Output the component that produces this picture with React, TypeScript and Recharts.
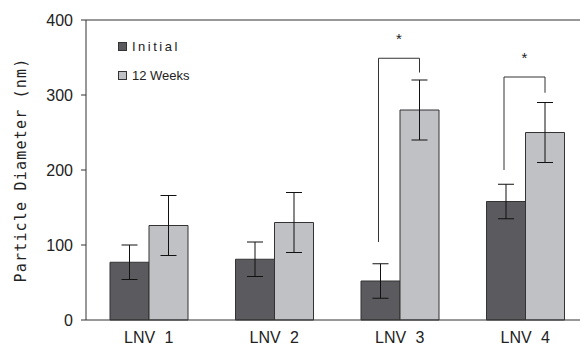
import React from 'react';
import {
  BarChart,
  Bar,
  XAxis,
  YAxis,
  ErrorBar,
  Legend,
  ReferenceLine,
  Rectangle
} from 'recharts';

// Values
const categories = ['LNV 1', 'LNV 2', 'LNV 3', 'LNV 4'];
const initial = [77, 81, 52, 158];
const initialErr = [23, 23, 23, 23];
const weeks12 = [126, 130, 280, 250];
const weeks12Err = [40, 40, 40, 40];
const yTicks = [0, 100, 200, 300, 400];

// Significance brackets (data units), null where there is none
const bracketLeft: (number | null)[] = [null, null, 104, 200];
const bracketTop: (number | null)[] = [null, null, 349, 324];
const bracketRight: (number | null)[] = [null, null, 330, 303];
const starY: (number | null)[] = [null, null, 376, 350];

const COLORS = {
  initial: '#5b5b5f',
  weeks: '#c0c1c5',
  outline: '#333333',
  text: '#222222'
};

const data = categories.map((name, i) => ({
  name,
  initial: initial[i],
  initialErr: initialErr[i],
  weeks: weeks12[i],
  weeksErr: weeks12Err[i],
  bLeft: bracketLeft[i],
  bTop: bracketTop[i],
  bRight: bracketRight[i],
  star: starY[i]
}));

// 12-week bar plus its significance bracket, placed using the bar's own scale
const WeeksShape = (props: any) => {
  const { x, y, width, height, payload } = props;
  const base = y + height;
  const k = height / payload.weeks;
  const toY = (v: number) => base - v * k;
  const leftX = x - width / 2 - 2;
  const rightX = x + width / 2;
  return (
    <g>
      <Rectangle {...props} />
      {payload.bTop !== null && (
        <g>
          <path
            d={`M${leftX},${toY(payload.bLeft)} V${toY(payload.bTop)} H${rightX} V${toY(payload.bRight)}`}
            fill="none"
            stroke={COLORS.outline}
            strokeWidth={1}
          />
          <text
            x={(leftX + rightX) / 2}
            y={toY(payload.star)}
            textAnchor="middle"
            dominantBaseline="central"
            fontSize={15}
            fontFamily="Liberation Sans, Arial, sans-serif"
            fill={COLORS.text}
          >
            *
          </text>
        </g>
      )}
    </g>
  );
};

const LegendContent = () => (
  <div style={{ fontFamily: 'Liberation Sans, Arial, sans-serif', fontSize: 13, color: COLORS.text }}>
    <div style={{ display: 'flex', alignItems: 'center', height: 16, marginBottom: 13 }}>
      <span style={{ width: 7, height: 7, background: COLORS.initial, border: `1px solid ${COLORS.outline}`, marginRight: 5 }} />
      <span style={{ letterSpacing: 2.5 }}>Initial</span>
    </div>
    <div style={{ display: 'flex', alignItems: 'center', height: 16 }}>
      <span style={{ width: 7, height: 7, background: COLORS.weeks, border: `1px solid ${COLORS.outline}`, marginRight: 5 }} />
      <span>12 Weeks</span>
    </div>
  </div>
);

export default function App() {
  return (
    <BarChart
      width={580}
      height={340}
      data={data}
      margin={{ top: 12, right: 0, left: 18, bottom: 0 }}
      barGap={0}
      barSize={39}
    >
      <XAxis
        dataKey="name"
        axisLine={{ stroke: COLORS.outline }}
        tickLine={false}
        height={28}
        tickMargin={6}
        tick={{
          fill: COLORS.text,
          fontSize: 16,
          fontFamily: 'Liberation Sans Narrow, Liberation Sans, Arial, sans-serif',
          wordSpacing: 5
        }}
      />
      <YAxis
        width={60}
        domain={[0, 400]}
        ticks={yTicks}
        axisLine={{ stroke: COLORS.outline }}
        tickLine={{ stroke: COLORS.outline }}
        tickSize={5}
        tickMargin={8}
        tick={{ fill: COLORS.text, fontSize: 16, fontFamily: 'Liberation Sans, Arial, sans-serif' }}
        label={{
          value: 'Particle Diameter (nm)',
          angle: -90,
          position: 'center',
          dx: -35,
          style: {
            textAnchor: 'middle',
            fill: COLORS.text,
            fontSize: 15,
            fontFamily: 'DejaVu Sans Mono, monospace',
            letterSpacing: 1.2
          }
        }}
      />
      <ReferenceLine y={400} stroke={COLORS.outline} />
      <Legend
        verticalAlign="middle"
        align="center"
        layout="vertical"
        content={LegendContent}
        wrapperStyle={{ top: 30, left: 110, width: 'auto', height: 'auto' }}
      />
      <Bar
        dataKey="initial"
        name="Initial"
        fill={COLORS.initial}
        stroke={COLORS.outline}
        strokeWidth={1}
        isAnimationActive={false}
      >
        <ErrorBar dataKey="initialErr" width={8} stroke="#111" strokeWidth={1} />
      </Bar>
      <Bar
        dataKey="weeks"
        name="12 Weeks"
        fill={COLORS.weeks}
        stroke={COLORS.outline}
        strokeWidth={1}
        shape={WeeksShape}
        isAnimationActive={false}
      >
        <ErrorBar dataKey="weeksErr" width={8} stroke="#111" strokeWidth={1} />
      </Bar>
    </BarChart>
  );
}
